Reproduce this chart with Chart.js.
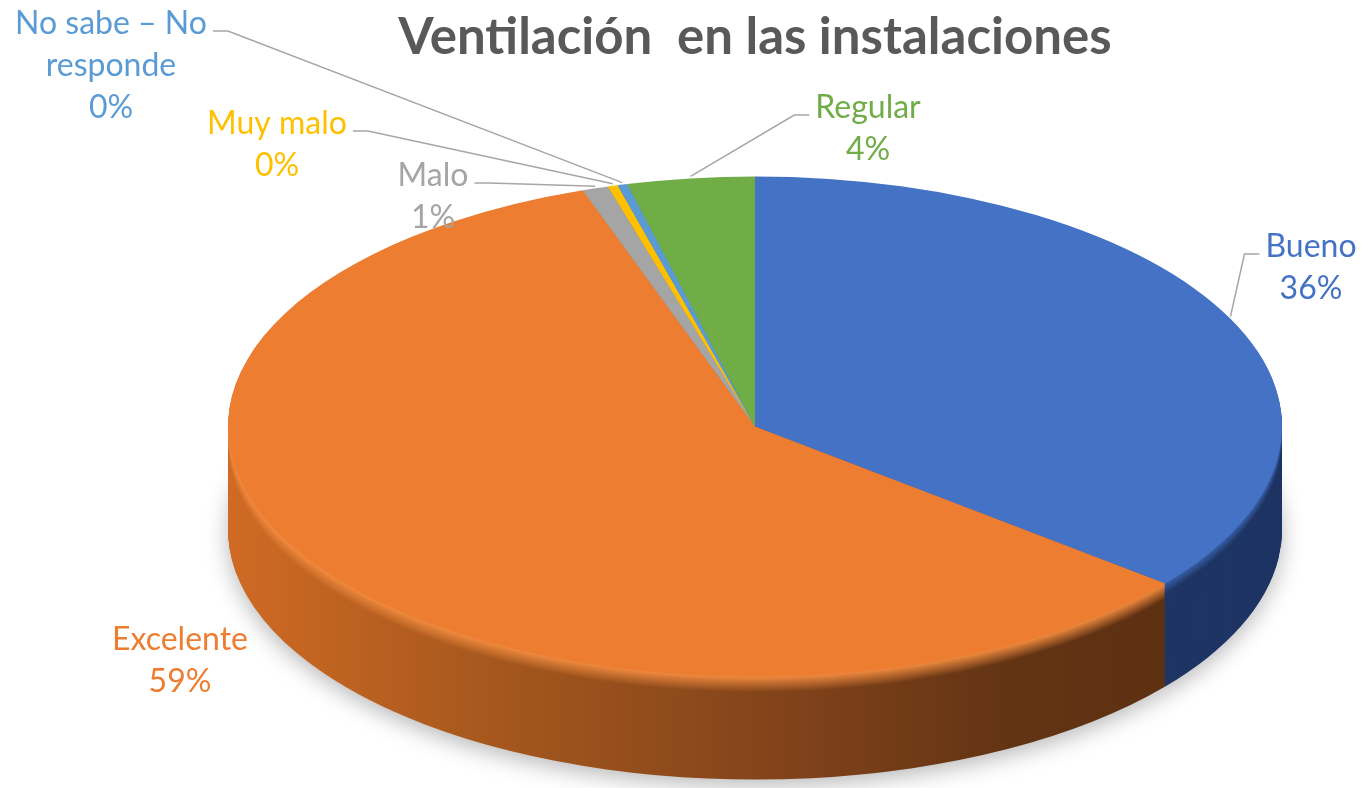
<!DOCTYPE html>
<html>
<head>
<meta charset="utf-8">
<script src="https://cdn.jsdelivr.net/npm/chart.js@4.4.0/dist/chart.umd.min.js"></script>
<style>
  html, body { margin: 0; padding: 0; background: #fff; }
  #chart { display: block; }
</style>
</head>
<body>
<canvas id="chart" width="1363" height="788"></canvas>
<script>
// data (percent of answers)
var categories = ['Bueno', 'Excelente', 'Malo', 'Muy malo', 'No sabe – No responde', 'Regular'];
var values = [35.8, 58.9, 0.8, 0.3, 0.3, 3.9];
var titleText = 'Ventilación  en las instalaciones';

var topColors = ['#4472c4', '#ed7d31', '#a5a5a5', '#ffc000', '#5b9bd5', '#70ad47'];
var sideColors = ['#1f3564', '#8a4619', '#5e5e5e', '#8a6a00', '#2f5b86', '#3e6327'];

function hexToRgb(h) {
  h = h.replace('#', '');
  return [parseInt(h.substr(0, 2), 16), parseInt(h.substr(2, 2), 16), parseInt(h.substr(4, 2), 16)];
}
function mix(a, b, t) {
  var ca = hexToRgb(a), cb = hexToRgb(b);
  var c = ca.map((v, i) => Math.round(v + (cb[i] - v) * t));
  return 'rgb(' + c.join(',') + ')';
}

// colour of one layer of the pie side; d = depth below the top face
function sideFill(ctx, i, d, arc) {
  var t = Math.min(d / 16, 1); // lighter just under the rim
  if (i == 1) {
    var left = arc.x - arc.outerRadius, right = arc.x + arc.outerRadius;
    var g = ctx.createLinearGradient(left, 0, right, 0);
    var stops = [[0, '#d06a24'], [0.26, '#a4571d'], [0.54, '#80421a'], [0.74, '#633414'], [1, '#5a2e10']];
    stops.forEach(s => g.addColorStop(s[0], mix('#f28c40', s[1], t)));
    return g;
  }
  return mix(topColors[i], sideColors[i], Math.min(1, t + 0.3));
}

function flatten(ctx, arc, k) {
  ctx.translate(arc.x, arc.y);
  ctx.scale(1, k);
  ctx.translate(-arc.x, -arc.y);
}

// draws the thickness of the pie and squashes the top face into an ellipse
var pie3d = {
  id: 'pie3d',
  beforeDatasetsDraw: function(chart, args, opts) {
    var ctx = chart.ctx;
    var arcs = chart.getDatasetMeta(0).data;
    ctx.save();
    for (var d = opts.depth; d >= 1; d--) {
      ctx.save();
      ctx.translate(0, d);
      flatten(ctx, arcs[0], opts.tilt);
      if (d == opts.depth) {
        ctx.shadowColor = 'rgba(0,0,0,0.28)';
        ctx.shadowBlur = 22;
        ctx.shadowOffsetY = 6;
      }
      arcs.forEach(function(arc, i) {
        var old = arc.options.backgroundColor;
        arc.options.backgroundColor = sideFill(ctx, i, d, arc);
        arc.draw(ctx);
        arc.options.backgroundColor = old;
      });
      ctx.restore();
    }
    flatten(ctx, arcs[0], opts.tilt);
  },
  afterDatasetsDraw: function(chart) {
    chart.ctx.restore();
  }
};

function wrapText(ctx, text, maxWidth) {
  var words = text.split(' '), lines = [], line = '';
  words.forEach(function(w) {
    var test = line ? line + ' ' + w : w;
    if (line && ctx.measureText(test).width > maxWidth) {
      lines.push(line);
      line = w;
    } else {
      line = test;
    }
  });
  lines.push(line);
  return lines;
}

// data labels with leader lines, like the Excel ones
var pieLabels = {
  id: 'pieLabels',
  afterDraw: function(chart, args, opts) {
    var ctx = chart.ctx;
    var arcs = chart.getDatasetMeta(0).data;
    var total = values.reduce((a, b) => a + b, 0);
    ctx.save();
    ctx.font = opts.font;
    ctx.textAlign = 'center';
    ctx.textBaseline = 'middle';
    arcs.forEach(function(arc, i) {
      var pos = opts.positions[i];
      var lines = wrapText(ctx, categories[i], opts.maxWidth);
      lines.push(Math.round(values[i] / total * 100) + '%');
      ctx.fillStyle = topColors[i];
      lines.forEach(function(ln, j) {
        ctx.fillText(ln, pos[0], pos[1] + j * opts.lineHeight);
      });
      if (pos[2]) {
        var mid = (arc.startAngle + arc.endAngle) / 2;
        var ex = arc.x + arc.outerRadius * Math.cos(mid);
        var ey = arc.y + arc.outerRadius * opts.tilt * Math.sin(mid) - 2;
        var w = ctx.measureText(lines[0]).width;
        var sx = pos[0] + pos[2] * (w / 2 + 6);
        var sy = pos[1] + 7;
        ctx.beginPath();
        ctx.moveTo(sx, sy);
        ctx.lineTo(sx + pos[2] * 15, sy);
        ctx.lineTo(ex, ey);
        ctx.strokeStyle = '#a6a6a6';
        ctx.lineWidth = 1.5;
        ctx.stroke();
      }
    });
    ctx.restore();
  }
};

var tilt = 250 / 527;

var config = {
  type: 'pie',
  data: {
    labels: categories,
    datasets: [{
      data: values,
      backgroundColor: topColors,
      borderWidth: 0,
      clip: false
    }]
  },
  options: {
    responsive: false,
    animation: false,
    radius: 527,
    layout: {
      padding: { left: 147, right: 0, top: 0, bottom: 0 }
    },
    plugins: {
      legend: { display: false },
      tooltip: { enabled: false },
      title: {
        display: true,
        text: titleText,
        color: '#595959',
        font: { family: 'Lato', size: 51, weight: 'bold', lineHeight: 1.1 },
        padding: { top: 9, bottom: 0 }
      },
      pie3d: { depth: 103, tilt: tilt },
      pieLabels: {
        font: '32px Lato',
        lineHeight: 42,
        maxWidth: 230,
        tilt: tilt,
        // [x, y of first line, side the leader leaves from]
        positions: [
          [1311, 247, -1],
          [180, 640, 0],
          [433, 176, 1],
          [277, 124, 1],
          [111, 24, 1],
          [868, 108, -1]
        ]
      }
    }
  },
  plugins: [pie3d, pieLabels]
};

var myChart = new Chart(document.getElementById('chart'), config);
</script>
</body>
</html>
